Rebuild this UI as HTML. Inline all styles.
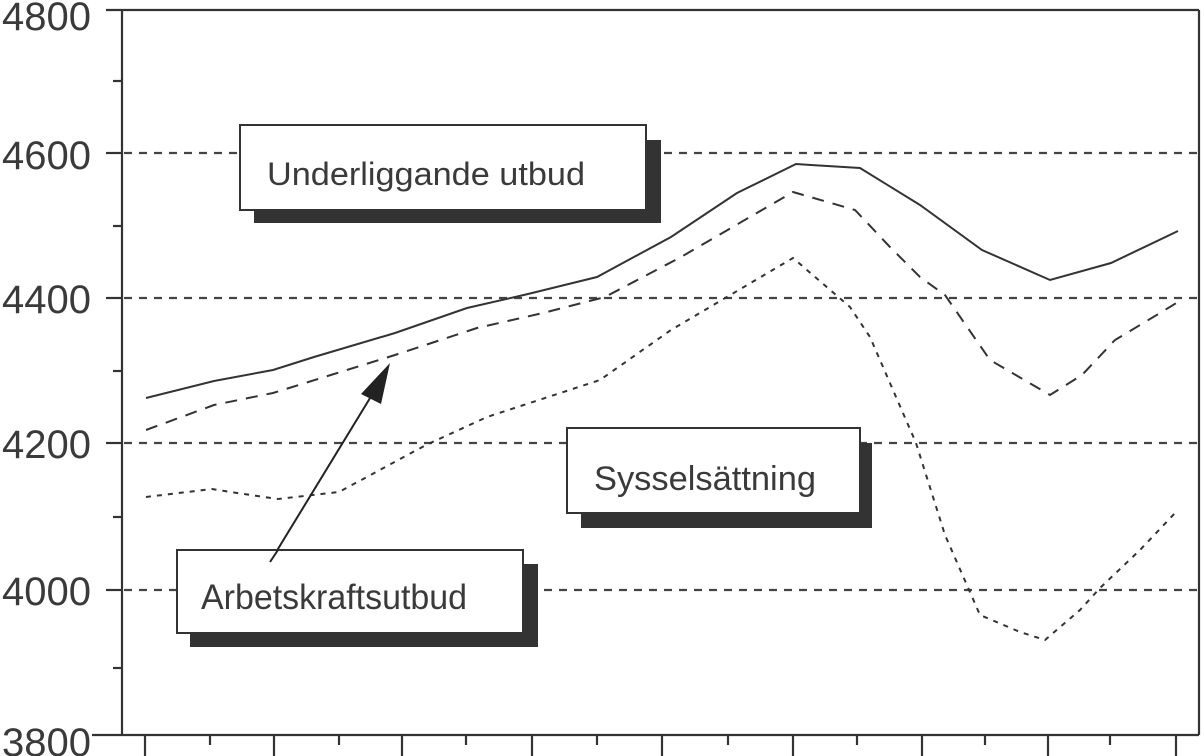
<!DOCTYPE html>
<html><head><meta charset="utf-8"><style>
html,body{margin:0;padding:0;background:#fff;}
svg{display:block;}
text{font-family:"Liberation Sans",sans-serif;fill:#3a3a3a;}
</style></head><body>
<svg width="1204" height="756" viewBox="0 0 1204 756" xmlns="http://www.w3.org/2000/svg">
<g stroke="#444" stroke-width="2.2" stroke-dasharray="8,7" fill="none">
<line x1="124" y1="153" x2="1199" y2="153"/>
<line x1="124" y1="298" x2="1199" y2="298"/>
<line x1="124" y1="443" x2="1199" y2="443"/>
<line x1="124" y1="590" x2="1199" y2="590"/>
</g>
<g stroke="#333" stroke-width="2.2" fill="none">
<line x1="106" y1="10" x2="1199" y2="10"/>
<line x1="122" y1="10" x2="122" y2="735"/>
<line x1="1199" y1="10" x2="1199" y2="735"/>
<line x1="92" y1="735" x2="1199" y2="735"/>
<line x1="106" y1="153" x2="122" y2="153"/>
<line x1="106" y1="298" x2="122" y2="298"/>
<line x1="106" y1="443" x2="122" y2="443"/>
<line x1="106" y1="590" x2="122" y2="590"/>
<line x1="113" y1="81" x2="122" y2="81"/>
<line x1="113" y1="226" x2="122" y2="226"/>
<line x1="113" y1="371" x2="122" y2="371"/>
<line x1="113" y1="517" x2="122" y2="517"/>
<line x1="113" y1="668" x2="122" y2="668"/>
<line x1="145" y1="735" x2="145" y2="756"/>
<line x1="210" y1="735" x2="210" y2="745"/>
<line x1="274" y1="735" x2="274" y2="756"/>
<line x1="339" y1="735" x2="339" y2="745"/>
<line x1="402" y1="735" x2="402" y2="756"/>
<line x1="466" y1="735" x2="466" y2="745"/>
<line x1="532" y1="735" x2="532" y2="756"/>
<line x1="597" y1="735" x2="597" y2="745"/>
<line x1="662" y1="735" x2="662" y2="756"/>
<line x1="728" y1="735" x2="728" y2="745"/>
<line x1="793" y1="735" x2="793" y2="756"/>
<line x1="857" y1="735" x2="857" y2="745"/>
<line x1="922" y1="735" x2="922" y2="756"/>
<line x1="985" y1="735" x2="985" y2="745"/>
<line x1="1048" y1="735" x2="1048" y2="756"/>
<line x1="1110" y1="735" x2="1110" y2="745"/>
<line x1="1176" y1="735" x2="1176" y2="756"/>
</g>
<g font-size="40" text-anchor="end">
<text x="91" y="30">4800</text>
<text x="91" y="169">4600</text>
<text x="91" y="313">4400</text>
<text x="91" y="458">4200</text>
<text x="91" y="605">4000</text>
<text x="91" y="756">3800</text>
</g>
<g fill="none" stroke="#333" stroke-width="2">
<polyline points="146,398 214,381 273,370 314,357 395,333 467,308 528,294 597,277 671,237 737,193 796,164 811,165 860,168 920,205 982,250 1050,280 1111,263 1178,231"/>
<polyline stroke-dasharray="12,9" points="146,430 214,405 273,393 395,355 477,328 543,313 605,297 681,257 793,192 855,210 890,247 920,277 945,295 990,360 1050,395 1082,375 1115,340 1160,313 1178,302"/>
<polyline stroke-dasharray="5,6" points="146,497 212,489 237,493 278,499 339,492 426,445 487,417 600,380 671,330 793,258 850,307 870,337 916,443 945,535 980,615 1020,632 1045,640 1080,610 1100,588 1140,550 1176,512"/>
</g>
<line x1="270" y1="562" x2="378" y2="385" stroke="#222" stroke-width="2"/>
<polygon points="390,363 361,394 381,404" fill="#222"/>
<rect x="254" y="140" width="407" height="83" fill="#333"/>
<rect x="240" y="125" width="406" height="85" fill="#fff" stroke="#333" stroke-width="2"/>
<text x="267" y="185" font-size="32" textLength="318" lengthAdjust="spacingAndGlyphs">Underliggande utbud</text>
<rect x="581" y="443" width="291" height="85" fill="#333"/>
<rect x="567" y="428" width="293" height="85" fill="#fff" stroke="#333" stroke-width="2"/>
<text x="594" y="490" font-size="34" textLength="222" lengthAdjust="spacingAndGlyphs">Sysselsättning</text>
<rect x="190" y="564" width="348" height="83" fill="#333"/>
<rect x="177" y="550" width="346" height="83" fill="#fff" stroke="#333" stroke-width="2"/>
<text x="201" y="609" font-size="35" textLength="266" lengthAdjust="spacingAndGlyphs">Arbetskraftsutbud</text>
<line x1="270" y1="562" x2="278" y2="550" stroke="#222" stroke-width="2"/>
</svg>
</body></html>
